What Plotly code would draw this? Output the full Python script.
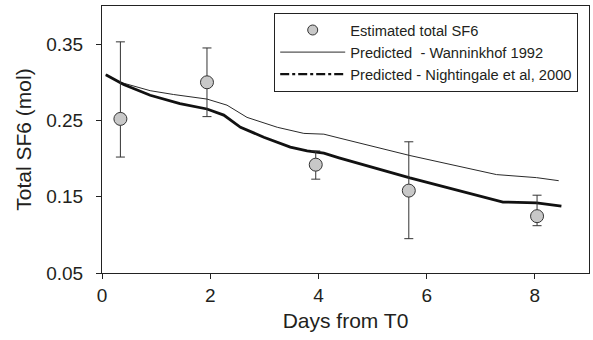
import plotly.graph_objects as go

# Observed estimates
obs_days = [0.34, 1.94, 3.95, 5.67, 8.04]
obs_sf6 = [0.252, 0.300, 0.192, 0.158, 0.1245]
obs_upper = [0.353, 0.345, 0.210, 0.222, 0.152]
obs_lower = [0.202, 0.255, 0.173, 0.095, 0.112]

# Wanninkhof 1992 prediction
wan_days = [0.07, 0.34, 0.89, 1.32, 1.94, 2.31, 2.68, 3.24, 3.73, 4.1, 4.38, 5.69, 7.29, 7.66, 8.03, 8.44]
wan_sf6 = [0.310, 0.300, 0.289, 0.284, 0.278, 0.270, 0.254, 0.241, 0.233, 0.232, 0.227, 0.204, 0.179, 0.177, 0.175, 0.171]

# Nightingale et al, 2000 prediction
nig_days = [0.07, 0.4, 0.89, 1.44, 1.94, 2.25, 2.56, 2.99, 3.48, 3.79, 4.1, 4.38, 5.69, 7.41, 8.03, 8.49]
nig_sf6 = [0.310, 0.297, 0.283, 0.272, 0.265, 0.257, 0.241, 0.228, 0.215, 0.210, 0.207, 0.201, 0.1746, 0.143, 0.142, 0.1376]

x_ticks = [0, 2, 4, 6, 8]
y_ticks = [0.05, 0.15, 0.25, 0.35]
y_tick_labels = ["0.05", "0.15", "0.25", "0.35"]

TXT = "#231f20"
FONT = "Liberation Sans, Arial, sans-serif"

err_plus = [u - v for u, v in zip(obs_upper, obs_sf6)]
err_minus = [v - l for v, l in zip(obs_sf6, obs_lower)]

fig = go.Figure()
fig.add_trace(go.Scatter(
    x=wan_days, y=wan_sf6, mode="lines", name="Predicted\u00a0 - Wanninkhof 1992",
    line=dict(color="#2a2a2a", width=1), showlegend=False))
fig.add_trace(go.Scatter(
    x=nig_days, y=nig_sf6, mode="lines", name="Predicted - Nightingale et al, 2000",
    line=dict(color="#111111", width=2.8), showlegend=False))
fig.add_trace(go.Scatter(
    x=obs_days, y=obs_sf6, mode="markers", name="Estimated total SF6",
    marker=dict(size=13, color="#c8c8c8", line=dict(color="#333333", width=1)),
    error_y=dict(type="data", symmetric=False, array=err_plus, arrayminus=err_minus,
                 color="#333333", thickness=1, width=4.5), showlegend=False))
# legend entries
fig.add_trace(go.Scatter(
    x=[None], y=[None], mode="markers", name="Estimated total SF6",
    marker=dict(size=10, color="#c8c8c8", line=dict(color="#333333", width=1))))
fig.add_trace(go.Scatter(
    x=[None], y=[None], mode="lines", name="Predicted\u00a0 - Wanninkhof 1992",
    line=dict(color="#2a2a2a", width=1)))
fig.add_trace(go.Scatter(
    x=[None], y=[None], mode="lines", name="Predicted - Nightingale et al, 2000",
    line=dict(color="#111111", width=2.2, dash="dashdot")))

fig.update_layout(
    width=593, height=340,
    margin=dict(l=102, r=4, t=6, b=67),
    paper_bgcolor="white", plot_bgcolor="white",
    font=dict(family=FONT, color=TXT, size=19),
    showlegend=True,
    legend=dict(
        x=0.3536, y=0.974, xanchor="left", yanchor="top",
        bordercolor="#222", borderwidth=1, bgcolor="white",
        font=dict(size=14.7, color=TXT), itemwidth=65,
        tracegroupgap=0,
    ),
    xaxis=dict(
        range=[0, 9], tickvals=x_ticks, showgrid=False, zeroline=False,
        showline=True, linecolor="#222", linewidth=1, mirror=True,
        ticks="outside", ticklen=5, tickcolor="#222",
        tickfont=dict(size=19), title=dict(text="Days from T0", font=dict(size=21), standoff=8),
    ),
    yaxis=dict(
        range=[0.05, 0.40], tickvals=y_ticks, ticktext=y_tick_labels, showgrid=False, zeroline=False,
        showline=True, linecolor="#222", linewidth=1, mirror=True,
        ticks="outside", ticklen=5, tickcolor="#222", ticklabelstandoff=9,
        tickfont=dict(size=19), title=dict(text="Total SF6 (mol)", font=dict(size=21), standoff=8),
    ),
)

fig.write_html("out.html")
